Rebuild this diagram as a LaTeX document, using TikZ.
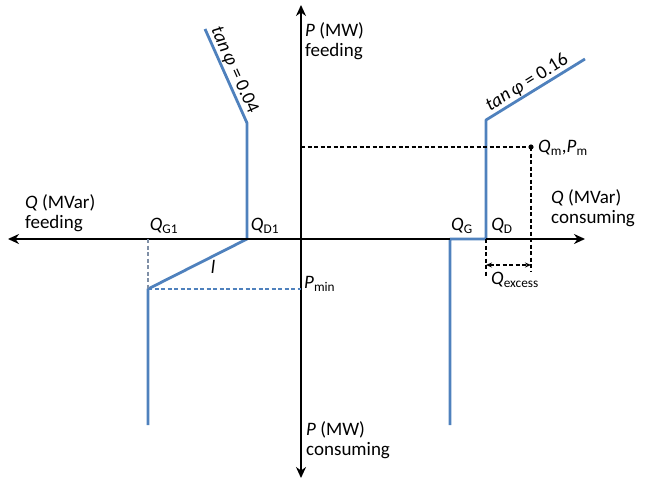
\documentclass[tikz,border=0pt]{standalone}
\usepackage{fontspec}
\setmainfont{Carlito}
\usetikzlibrary{arrows.meta}
\definecolor{lineblue}{HTML}{4F81BD}
\definecolor{guidegray}{HTML}{7F8FA6}
\begin{document}
\begin{tikzpicture}[x=1pt,y=-1pt,
  axis/.style={line width=2pt, {Stealth[length=11pt,width=10pt]}-{Stealth[length=11pt,width=10pt]}},
  curve/.style={line width=2.8pt, lineblue, line join=round},
  guide/.style={line width=1.3pt, dash pattern=on 4pt off 2.5pt},
  lbl/.style={font=\fontsize{19}{20}\selectfont, inner sep=0pt},
]
\useasboundingbox (0,0) rectangle (646,485);

% axis ends
\coordinate (qL) at (8,239);
\coordinate (qR) at (585,239);
\coordinate (pT) at (301,5);
\coordinate (pB) at (301,478);

% key points
\coordinate (a1) at (205,29);
\coordinate (a2) at (247,123);
\coordinate (qd1) at (247,239);
\coordinate (a4) at (148,289);
\coordinate (a5) at (148,425);
\coordinate (qg1) at (148,239);
\coordinate (pmin) at (301,289);

\coordinate (b1) at (450,425);
\coordinate (qg) at (450,239);
\coordinate (qd) at (486,239);
\coordinate (b4) at (486,120);
\coordinate (b5) at (585,59);

\coordinate (pm) at (301,147);
\coordinate (m) at (531,147);
\coordinate (qdlow) at (486,277);
\coordinate (mlow) at (531,271);
\coordinate (exl) at (486,265);
\coordinate (exr) at (531,265);

% blue curves
\draw[curve] (a1) -- (a2) -- (qd1) -- (a4) -- (a5);
\draw[curve] (b1) -- (qg) -- (qd) -- (b4) -- (b5);

% axes
\draw[axis] (qL) -- (qR);
\draw[axis] (pB) -- (pT);
\draw[curve, line cap=butt] (qg) -- (qd);

% guides
\draw[guide, guidegray] (qg1) -- (a4);
\draw[guide, lineblue] (a4) -- (pmin);
\draw[guide] (pm) -- (m);
\draw[guide] (m) -- (mlow);
\draw[guide] (qd) -- (qdlow);
\draw[guide, {Stealth[length=6pt,width=5pt]}-{Stealth[length=6pt,width=5pt]}] (exl) -- (exr);
\fill (m) circle (2.6pt);

% axis labels
\node[lbl, anchor=north west, align=left] (qfeed) at (25,194) {\textit{Q} (MVar)\\feeding};
\node[lbl, anchor=north west, align=left] (qcons) at (551,189) {\textit{Q} (MVar)\\consuming};
\node[lbl, anchor=north west, align=left] (pfeed) at (305,22) {\textit{P} (MW)\\feeding};
\node[lbl, anchor=north west, align=left] (pcons) at (306,421) {\textit{P} (MW)\\consuming};

% point labels
\node[lbl] (lqg1) at (164,226) {\textit{Q}\textsubscript{G1}};
\node[lbl] (lqd1) at (265,226) {\textit{Q}\textsubscript{D1}};
\node[lbl] (lqg) at (462,226) {\textit{Q}\textsubscript{G}};
\node[lbl] (lqd) at (502,226) {\textit{Q}\textsubscript{D}};
\node[lbl] (lqex) at (515,280) {\textit{Q}\textsubscript{excess}};
\node[lbl, anchor=west] (lqm) at (538,148) {\textit{Q}\textsubscript{m},\textit{P}\textsubscript{m}};
\node[lbl] (ll) at (213,267) {\textit{l}};
\node[lbl, anchor=west] (lpmin) at (304,284) {\textit{P}\textsubscript{min}};
\path (a1) -- (a2) node[lbl, pos=0.48, sloped, above=2pt] (t1) {\textit{tan}\,\textit{φ} = 0.04};
\path (b4) -- (b5) node[lbl, pos=0.47, sloped, above=2pt] (t2) {\textit{tan}\,\textit{φ} = 0.16};
\end{tikzpicture}
\end{document}
